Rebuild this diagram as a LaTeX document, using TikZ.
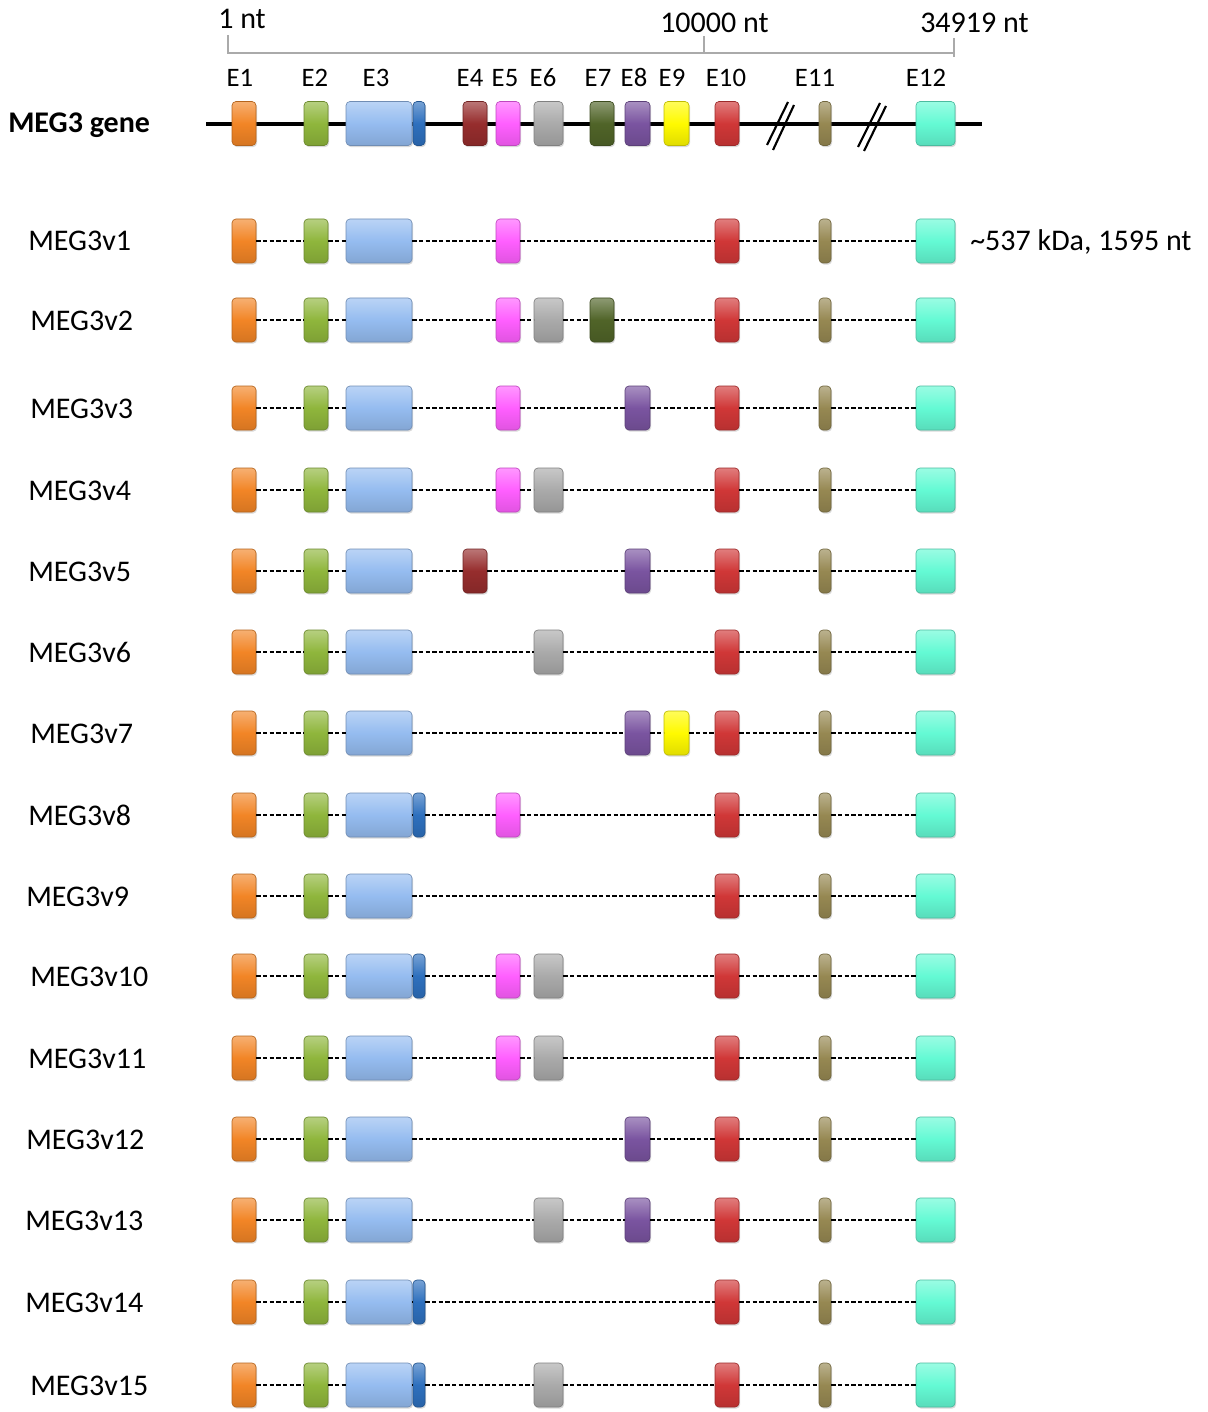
\documentclass[tikz,border=0pt]{standalone}
\usepackage{fontspec}
\setmainfont{Carlito}
\usetikzlibrary{shadows}
\definecolor{cE1}{RGB}{242,133,38}
\definecolor{cE2}{RGB}{143,182,60}
\definecolor{cE3}{RGB}{149,188,240}
\definecolor{cE3b}{RGB}{46,112,190}
\definecolor{cE4}{RGB}{150,45,45}
\definecolor{cE5}{RGB}{255,95,255}
\definecolor{cE6}{RGB}{170,170,170}
\definecolor{cE7}{RGB}{80,100,40}
\definecolor{cE8}{RGB}{122,84,160}
\definecolor{cE9}{RGB}{255,250,0}
\definecolor{cE10}{RGB}{208,55,55}
\definecolor{cE11}{RGB}{150,136,82}
\definecolor{cE12}{RGB}{100,250,212}
\definecolor{scalegray}{RGB}{170,170,170}
\tikzset{
 exon/.style={rectangle, rounded corners=3pt, inner sep=0pt, minimum height=33pt,
   draw=#1!75!black, line width=0.5pt, top color=#1!65!white, bottom color=#1!88!black, middle color=#1,
   drop shadow={opacity=0.3, shadow xshift=0.8pt, shadow yshift=-1.2pt}},
 intron/.style={draw=black, line width=1pt, dash pattern=on 3.2pt off 1.8pt},
 lbl/.style={font=\fontsize{22.5}{27}\selectfont, inner sep=0pt, anchor=base west},
 elbl/.style={font=\fontsize{20}{24}\selectfont, inner sep=0pt, anchor=base},
 scalebar/.style={draw=scalegray, line width=1.1pt},
 genebone/.style={draw=black, line width=2.6pt},
 breakmark/.style={draw=black, line width=1.6pt},
}
\newcommand\defex[3]{\expandafter\def\csname exLeft#1\endcsname{#2}\expandafter\def\csname exRight#1\endcsname{#3}}
\defex{1}{232}{256}
\defex{2}{304}{328}
\defex{3}{346}{412}
\defex{3b}{413}{425}
\defex{4}{463}{487}
\defex{5}{496}{520}
\defex{6}{534}{563}
\defex{7}{590}{614}
\defex{8}{625}{650}
\defex{9}{664}{689}
\defex{10}{715}{739}
\defex{11}{819}{831}
\defex{12}{916}{955}
\newcommand\ex[3]{%
 \pgfmathsetmacro\exl{\csname exLeft#2\endcsname}%
 \pgfmathsetmacro\exr{\csname exRight#2\endcsname}%
 \pgfmathsetmacro\exm{(\exl+\exr)/2}%
 \pgfmathsetmacro\exw{(\exr-\exl)*0.75}%
 \node[exon=cE#2, minimum width=\exw pt] (#1) at (\exm,#3) {};%
}
\newcommand\transcript[4]{%
 \node[lbl] (lab#1) at (#3,#2+10) {MEG3v#1};
 \foreach \e in {#4} {\ex{v#1e\e}{\e}{#2}}
 \foreach \e [count=\i, remember=\e as \p] in {#4} {\ifnum\i>1 \draw[intron] (v#1e\p.east) -- (v#1e\e.west);\fi}
}
\begin{document}
\begin{tikzpicture}[x=0.75pt,y=-0.75pt]
\useasboundingbox (0,0) rectangle (1207,1412);
% scale bar
\draw[scalebar] (228,35) -- (228,53) -- (954,53);
\draw[scalebar] (704,36) -- (704,53);
\draw[scalebar] (954,38) -- (954,57);
\node[lbl] (s1) at (218,29) {1 nt};
\node[lbl] (s2) at (660,33) {10000 nt};
\node[lbl] (s3) at (920,33) {34919 nt};
% exon labels
\foreach \t/\x in {E1/240,E2/315,E3/376,E4/470,E5/505,E6/543,E7/598,E8/634,E9/672,E10/726,E11/815,E12/926}
  \node[elbl] (lab\t) at (\x,87) {\t};
% gene
\node[lbl, font=\bfseries\fontsize{22.5}{27}\selectfont] (gname) at (8,133) {MEG3 gene};
\coordinate (gL) at (206,124);
\coordinate (gR) at (982,124);
\draw[genebone] (gL) -- (gR);
\foreach \e in {1,2,3,3b,4,5,6,7,8,9,10,11,12} {\ex{g\e}{\e}{123.5}}
\draw[breakmark] (767,145) -- (788,102);
\draw[breakmark] (773,150) -- (794,105);
\draw[breakmark] (858,147) -- (880,103);
\draw[breakmark] (864,151) -- (886,106);
% transcripts
\transcript{1}{241}{28}{1,2,3,5,10,11,12}
\transcript{2}{320}{30}{1,2,3,5,6,7,10,11,12}
\transcript{3}{408}{30}{1,2,3,5,8,10,11,12}
\transcript{4}{490}{28}{1,2,3,5,6,10,11,12}
\transcript{5}{571}{28}{1,2,3,4,8,10,11,12}
\transcript{6}{652}{28}{1,2,3,6,10,11,12}
\transcript{7}{733}{30}{1,2,3,8,9,10,11,12}
\transcript{8}{815}{28}{1,2,3,3b,5,10,11,12}
\transcript{9}{896}{26}{1,2,3,10,11,12}
\transcript{10}{976}{30}{1,2,3,3b,5,6,10,11,12}
\transcript{11}{1058}{28}{1,2,3,5,6,10,11,12}
\transcript{12}{1139}{26}{1,2,3,8,10,11,12}
\transcript{13}{1220}{25}{1,2,3,6,8,10,11,12}
\transcript{14}{1302}{25}{1,2,3,3b,10,11,12}
\transcript{15}{1385}{30}{1,2,3,3b,6,10,11,12}
\node[lbl] (info) at (970,251) {\textasciitilde537 kDa, 1595 nt};
\end{tikzpicture}
\end{document}
